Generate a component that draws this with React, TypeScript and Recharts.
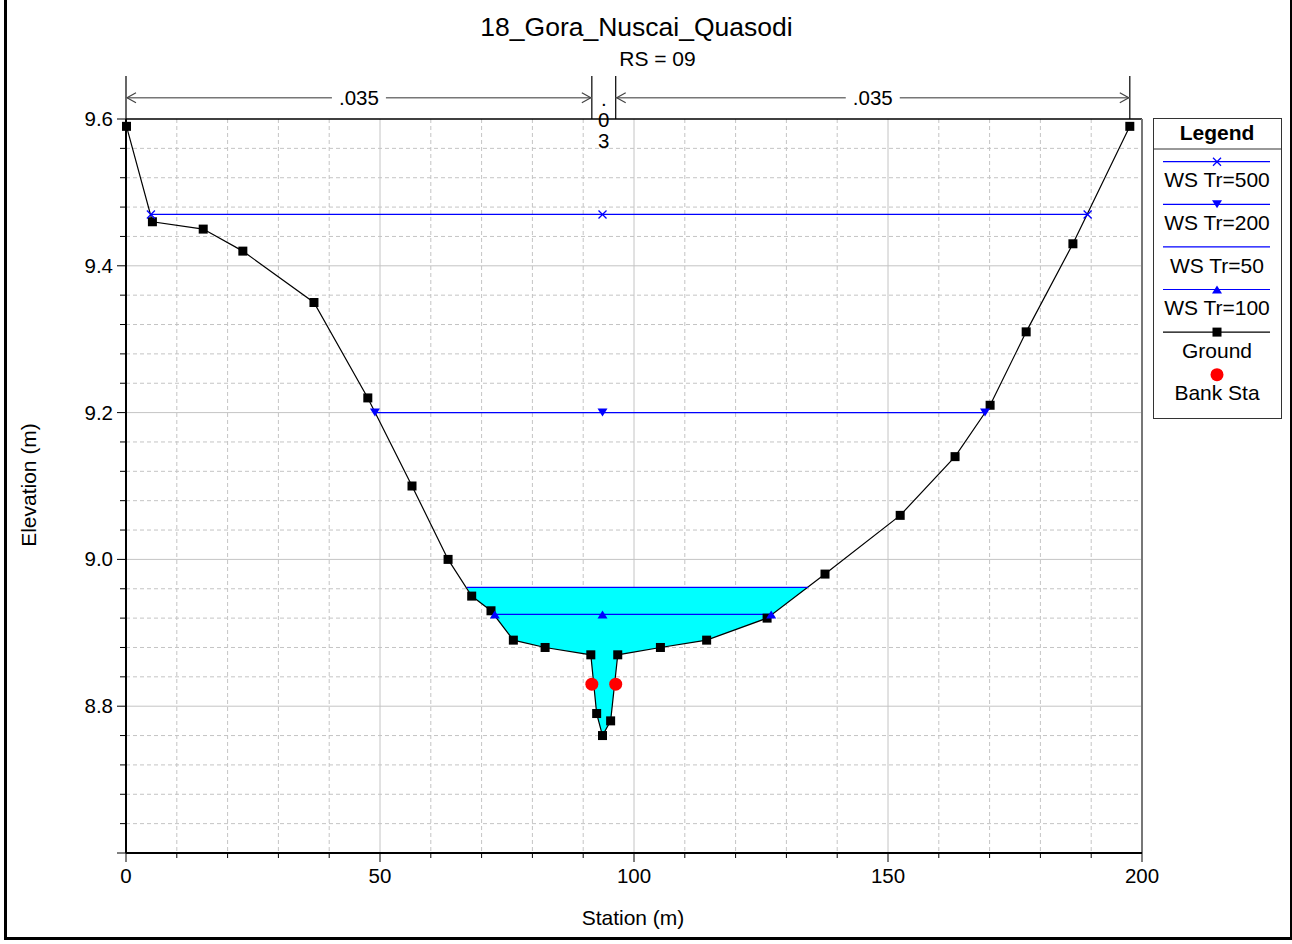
import React from "react";
import {
  ComposedChart,
  Line,
  Area,
  Scatter,
  XAxis,
  YAxis,
  CartesianGrid,
  ReferenceLine,
} from "recharts";

// ground survey points (station m, elevation m)
const groundStation = [
  0.1, 5.2, 15.2, 23.0, 37.0, 47.6, 56.3, 63.4, 68.05, 71.85, 76.25, 82.5, 91.5,
  92.65, 93.8, 95.4, 96.8, 105.2, 114.3, 126.2, 137.6, 152.4, 163.2, 170.1,
  177.2, 186.4, 197.6,
];
const groundElev = [
  9.59, 9.46, 9.45, 9.42, 9.35, 9.22, 9.1, 9.0, 8.95, 8.93, 8.89, 8.88, 8.87,
  8.79, 8.76, 8.78, 8.87, 8.88, 8.89, 8.92, 8.98, 9.06, 9.14, 9.21, 9.31, 9.43,
  9.59,
];

// water surfaces
const ws500Station = [4.9, 93.8, 189.3];
const ws500Elev = 9.47;
const ws200Station = [49.0, 93.8, 169.1];
const ws200Elev = 9.2;
const ws100Station = [72.6, 93.8, 127.0];
const ws100Elev = 8.925;
const ws50Station = [67.1, 134.3];
const ws50Elev = 8.962;

// wetted section under WS Tr=50
const fillStation = [
  67.1, 68.05, 71.85, 76.25, 82.5, 91.5, 92.65, 93.8, 95.4, 96.8, 105.2, 114.3,
  126.2, 134.3,
];
const fillBed = [
  8.962, 8.95, 8.93, 8.89, 8.88, 8.87, 8.79, 8.76, 8.78, 8.87, 8.88, 8.89, 8.92,
  8.962,
];

const bankStation = [91.7, 96.4];
const bankElev = [8.83, 8.83];

// manning n regions
const nBreaks = [0, 91.7, 96.4, 197.6];
const nValues = [".035", ".03", ".035"];

const xTicks = [
  0, 10, 20, 30, 40, 50, 60, 70, 80, 90, 100, 110, 120, 130, 140, 150, 160, 170,
  180, 190, 200,
];
const xMajor = [50, 100, 150];
const xMinor = [10, 20, 30, 40, 60, 70, 80, 90, 110, 120, 130, 140, 160, 170, 180, 190];
const yTicks = [
  8.6, 8.64, 8.68, 8.72, 8.76, 8.8, 8.84, 8.88, 8.92, 8.96, 9.0, 9.04, 9.08,
  9.12, 9.16, 9.2, 9.24, 9.28, 9.32, 9.36, 9.4, 9.44, 9.48, 9.52, 9.56, 9.6,
];
const yMajor = [8.8, 9.0, 9.2, 9.4];
const yMinor = [
  8.64, 8.68, 8.72, 8.76, 8.84, 8.88, 8.92, 8.96, 9.04, 9.08, 9.12, 9.16, 9.24,
  9.28, 9.32, 9.36, 9.44, 9.48, 9.52, 9.56,
];

const legendItems = ["WS Tr=500", "WS Tr=200", "WS Tr=50", "WS Tr=100", "Ground", "Bank Sta"];

const FONT = "'Liberation Sans', Arial, sans-serif";
const BLUE = "#0000ff";
const PLOT_L = 126;
const PLOT_R = 1142;
const sx = (st: number) => PLOT_L + (st / 200) * (PLOT_R - PLOT_L);

const pts = (xs: number[], ys: number[]) => xs.map((x, i) => ({ x, y: ys[i] }));
const level = (xs: number[], y: number) => xs.map((x) => ({ x, y }));

const isMajor = (v: number, step: number) =>
  Math.abs(v / step - Math.round(v / step)) < 1e-6;

const Square = ({ cx, cy }: any) => (
  <rect x={cx - 4.5} y={cy - 4.5} width={9} height={9} fill="#000" />
);
const Cross = ({ cx, cy }: any) => (
  <g stroke={BLUE} strokeWidth={1.3}>
    <line x1={cx - 4} y1={cy - 4} x2={cx + 4} y2={cy + 4} />
    <line x1={cx - 4} y1={cy + 4} x2={cx + 4} y2={cy - 4} />
  </g>
);
const TriDown = ({ cx, cy }: any) => (
  <polygon
    points={`${cx - 5},${cy - 4} ${cx + 5},${cy - 4} ${cx},${cy + 4}`}
    fill={BLUE}
  />
);
const TriUp = ({ cx, cy }: any) => (
  <polygon
    points={`${cx - 5},${cy + 4} ${cx + 5},${cy + 4} ${cx},${cy - 4}`}
    fill={BLUE}
  />
);

const XTick = ({ x, y, payload }: any) => {
  const major = isMajor(payload.value, 50);
  return (
    <g>
      <line x1={x} y1={y} x2={x} y2={y + (major ? 9 : 5)} stroke="#000" />
      {major && (
        <text x={x} y={y + 30} textAnchor="middle" fontSize={20.5} fontFamily={FONT} fill="#000">
          {payload.value}
        </text>
      )}
    </g>
  );
};

const YTick = ({ x, y, payload }: any) => {
  const v = payload.value;
  const major = isMajor(v, 0.2);
  return (
    <g>
      <line x1={x - (major ? 9 : 6)} y1={y} x2={x} y2={y} stroke="#000" />
      {major && v > 8.7 && (
        <text x={x - 13} y={y + 7} textAnchor="end" fontSize={20.5} fontFamily={FONT} fill="#000">
          {v.toFixed(1)}
        </text>
      )}
    </g>
  );
};

function NAnnotations() {
  const lineY = 97.7;
  return (
    <svg
      width={1292}
      height={170}
      style={{ position: "absolute", left: 0, top: 0, pointerEvents: "none" }}
      fontFamily={FONT}
    >
      {nBreaks.map((st, i) => (
        <line key={i} x1={sx(st)} y1={76} x2={sx(st)} y2={119} stroke="#000" strokeWidth={1.2} />
      ))}
      {[0, 2].map((i) => {
        const a = sx(nBreaks[i]);
        const b = sx(nBreaks[i + 1]);
        const mid = (a + b) / 2;
        return (
          <g key={i}>
            <line x1={a} y1={lineY} x2={b} y2={lineY} stroke="#777" strokeWidth={1.5} />
            <polyline
              points={`${a + 10},${lineY - 5} ${a + 1},${lineY} ${a + 10},${lineY + 5}`}
              fill="none"
              stroke="#444"
              strokeWidth={1.2}
            />
            <polyline
              points={`${b - 10},${lineY - 5} ${b - 1},${lineY} ${b - 10},${lineY + 5}`}
              fill="none"
              stroke="#444"
              strokeWidth={1.2}
            />
            <rect x={mid - 27} y={lineY - 10} width={54} height={20} fill="#fff" />
            <text x={mid} y={lineY + 7} textAnchor="middle" fontSize={20.5} fill="#000">
              {nValues[i]}
            </text>
          </g>
        );
      })}
      {nValues[1].split("").map((ch, i) => (
        <text
          key={i}
          x={(sx(nBreaks[1]) + sx(nBreaks[2])) / 2}
          y={106 + i * 21}
          textAnchor="middle"
          fontSize={20.5}
          fill="#000"
        >
          {ch}
        </text>
      ))}
    </svg>
  );
}

function LegendBox() {
  const left = 1153;
  const top = 118;
  const w = 128;
  const h = 300;
  const cx = w / 2;
  return (
    <svg
      width={w + 2}
      height={h + 2}
      style={{ position: "absolute", left, top }}
      fontFamily={FONT}
    >
      <rect x={0.5} y={0.5} width={w} height={h} fill="#fff" stroke="#333" />
      <line x1={0.5} y1={31} x2={w} y2={31} stroke="#333" />
      <text x={cx} y={21.5} textAnchor="middle" fontSize={21} fontWeight="bold">
        Legend
      </text>
      {legendItems.map((name, i) => {
        const ly = 43.7 + i * 42.6;
        const color = i === 4 ? "#000" : BLUE;
        return (
          <g key={name}>
            {i < 5 && <line x1={10} y1={ly} x2={117} y2={ly} stroke={color} strokeWidth={1.2} />}
            {i === 0 && <Cross cx={cx} cy={ly} />}
            {i === 1 && <TriDown cx={cx} cy={ly} />}
            {i === 3 && <TriUp cx={cx} cy={ly} />}
            {i === 4 && <Square cx={cx} cy={ly} />}
            {i === 5 && <circle cx={cx} cy={ly} r={6.5} fill="#ff0000" />}
            <text x={cx} y={ly + 25.6} textAnchor="middle" fontSize={21} fill="#000">
              {name}
            </text>
          </g>
        );
      })}
    </svg>
  );
}

export default function App() {
  const ground = pts(groundStation, groundElev);
  const fill = fillStation.map((x, i) => ({ x, y: [fillBed[i], ws50Elev] }));
  const bank = pts(bankStation, bankElev);

  return (
    <div
      style={{
        position: "relative",
        width: 1292,
        height: 944,
        overflow: "hidden",
        background: "#fff",
        fontFamily: FONT,
      }}
    >
      <style>{"body{margin:0}"}</style>
      <ComposedChart
        width={1292}
        height={944}
        margin={{ top: 119, right: 150, bottom: 51, left: 66 }}
      >
        <CartesianGrid
          horizontalValues={yMinor}
          verticalValues={xMinor}
          stroke="#c4c4c4"
          strokeDasharray="4 3"
        />
        <CartesianGrid horizontalValues={yMajor} verticalValues={xMajor} stroke="#c4c4c4" />
        <XAxis
          type="number"
          dataKey="x"
          domain={[0, 200]}
          ticks={xTicks}
          interval={0}
          tickSize={0}
          tickMargin={0}
          tickLine={false}
          axisLine={{ stroke: "#000", strokeWidth: 2 }}
          tick={(p: any) => <XTick {...p} />}
          height={40}
        />
        <YAxis
          type="number"
          dataKey="y"
          domain={[8.6, 9.6]}
          ticks={yTicks}
          interval={0}
          tickSize={0}
          tickMargin={0}
          tickLine={false}
          axisLine={{ stroke: "#000", strokeWidth: 2 }}
          tick={(p: any) => <YTick {...p} />}
          width={60}
        />
        <Area
          data={fill}
          dataKey="y"
          type="linear"
          fill="#00ffff"
          fillOpacity={1}
          stroke="none"
          isAnimationActive={false}
        />
        <Line
          data={ground}
          dataKey="y"
          type="linear"
          stroke="#000"
          strokeWidth={1.2}
          dot={(p: any) => <Square key={p.index} {...p} />}
          activeDot={false}
          isAnimationActive={false}
        />
        <Line
          data={level(ws500Station, ws500Elev)}
          dataKey="y"
          stroke={BLUE}
          strokeWidth={1.2}
          dot={(p: any) => <Cross key={p.index} {...p} />}
          activeDot={false}
          isAnimationActive={false}
        />
        <Line
          data={level(ws200Station, ws200Elev)}
          dataKey="y"
          stroke={BLUE}
          strokeWidth={1.2}
          dot={(p: any) => <TriDown key={p.index} {...p} />}
          activeDot={false}
          isAnimationActive={false}
        />
        <Line
          data={level(ws50Station, ws50Elev)}
          dataKey="y"
          stroke={BLUE}
          strokeWidth={1.2}
          dot={false}
          activeDot={false}
          isAnimationActive={false}
        />
        <Line
          data={level(ws100Station, ws100Elev)}
          dataKey="y"
          stroke={BLUE}
          strokeWidth={1.2}
          dot={(p: any) => <TriUp key={p.index} {...p} />}
          activeDot={false}
          isAnimationActive={false}
        />
        <Scatter
          data={bank}
          dataKey="y"
          shape={(p: any) => <circle cx={p.cx} cy={p.cy} r={6.5} fill="#ff0000" />}
          isAnimationActive={false}
        />
        <ReferenceLine y={9.6} stroke="#000" strokeWidth={1.5} />
        <ReferenceLine x={200} stroke="#777" strokeWidth={2} />
      </ComposedChart>

      <svg
        width={1292}
        height={944}
        style={{ position: "absolute", left: 0, top: 0, pointerEvents: "none" }}
        fontFamily={FONT}
      >
        <text x={636.5} y={36} textAnchor="middle" fontSize={26.5} fill="#000">
          18_Gora_Nuscai_Quasodi
        </text>
        <text x={657.5} y={66} textAnchor="middle" fontSize={21} fill="#000">
          RS = 09
        </text>
        <text x={633} y={925} textAnchor="middle" fontSize={21} fill="#000">
          Station (m)
        </text>
        <text
          x={0}
          y={0}
          transform="translate(36,485) rotate(-90)"
          textAnchor="middle"
          fontSize={21}
          fill="#000"
        >
          Elevation (m)
        </text>
      </svg>
      <NAnnotations />
      <LegendBox />
      <div
        style={{
          position: "absolute",
          left: 4,
          top: -3,
          width: 1289,
          height: 943,
          boxSizing: "border-box",
          border: "3px solid #000",
          pointerEvents: "none",
        }}
      />
    </div>
  );
}
